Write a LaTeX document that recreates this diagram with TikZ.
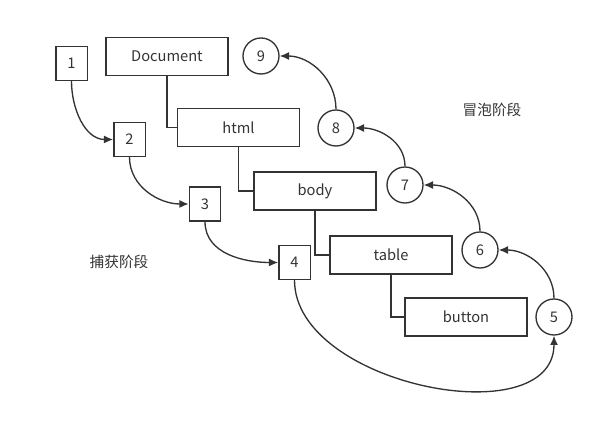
\documentclass[tikz,border=0pt]{standalone}
\usepackage{fontspec}
\setmainfont{Noto Sans CJK SC}
\usetikzlibrary{arrows.meta}
\definecolor{ink}{RGB}{51,51,51}
\tikzset{
  box/.style={draw=ink, line width=1pt, text=ink, minimum width=91.5pt, minimum height=28.5pt, inner sep=0pt, font=\fontsize{11}{13}\selectfont},
  sq/.style={draw=ink, line width=1pt, text=ink, minimum width=23.5pt, minimum height=25.5pt, inner sep=0pt, font=\fontsize{11}{13}\selectfont},
  circ/.style={draw=ink, circle, line width=1pt, text=ink, minimum size=27pt, inner sep=0pt, font=\fontsize{11}{13}\selectfont},
  tree/.style={draw=ink, line width=1pt},
  flow/.style={draw=ink, line width=1pt, -{Latex[length=7pt,width=6pt]}},
  lbl/.style={text=ink, font=\fontsize{11}{13}\selectfont}
}
\begin{document}
\begin{tikzpicture}[x=0.75pt,y=-0.75pt]
\useasboundingbox (0,0) rectangle (610,423);
% tree boxes
\node[box] (doc) at (167,56.5) {Document};
\node[box] (html) at (238.5,127.5) {html};
\node[box] (body) at (315,191) {body};
\node[box] (table) at (391,255) {table};
\node[box] (button) at (466,317) {button};
\draw[tree] (doc.south) |- (html.west);
\draw[tree] (html.south) |- (body.west);
\draw[tree] (body.south) |- (table.west);
\draw[tree] (table.south) |- (button.west);
% capture squares
\node[sq] (s1) at (71.5,63.5) {1};
\node[sq] (s2) at (129.5,139.5) {2};
\node[sq] (s3) at (205,204) {3};
\node[sq] (s4) at (294.5,262.5) {4};
% bubble circles
\node[circ] (c5) at (554,317) {5};
\node[circ] (c6) at (480,250) {6};
\node[circ] (c7) at (405,185) {7};
\node[circ] (c8) at (336,128) {8};
\node[circ] (c9) at (261,56) {9};
% capture arrows
\draw[flow] (s1.south) to[out=-90,in=180] (s2.west);
\draw[flow] (s2.south) to[out=-90,in=180] (s3.west);
\draw[flow] (s3.south) to[out=-90,in=180] (s4.west);
\draw[flow] (s4.south) .. controls +(0,105) and +(0,100) .. (c5.south);
% bubble arrows
\draw[flow] (c5.north) to[out=90,in=0] (c6.east);
\draw[flow] (c6.north) to[out=90,in=0] (c7.east);
\draw[flow] (c7.north) to[out=90,in=0] (c8.east);
\draw[flow] (c8.north) to[out=90,in=0] (c9.east);
% labels
\node[lbl] (cap) at (119,262) {捕获阶段};
\node[lbl] (bub) at (492,110) {冒泡阶段};
\end{tikzpicture}
\end{document}
